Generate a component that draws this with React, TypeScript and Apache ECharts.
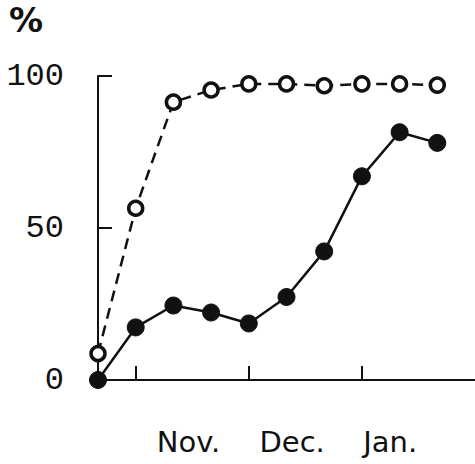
import React, { useEffect, useRef } from "react";
import * as echarts from "echarts";

const xIndex = [0, 1, 2, 3, 4, 5, 6, 7, 8, 9];
const openSeries = [8.7, 56.5, 91.4, 95.4, 97.4, 97.4, 96.8, 97.4, 97.4, 97.0];
const solidSeries = [0, 17.3, 24.5, 22.2, 18.6, 27.3, 42.3, 67.0, 81.5, 78.0];
const xTickValues = [1, 4, 7];
const monthLabels = ["Nov.", "Dec.", "Jan."];
const monthPositions = [2.4, 5.15, 7.75];
const yLabelValues = [0, 50, 100];
const yTickValues = [50, 100];

export default function App() {
  const ref = useRef<HTMLDivElement>(null);
  useEffect(() => {
    if (!ref.current) return;
    const chart = echarts.init(ref.current, null, { renderer: "svg" });
    const ink = "#111";
    chart.setOption({
      animation: false,
      backgroundColor: "#fff",
      grid: { left: 98, right: 0, top: 76, bottom: 84, containLabel: false },
      graphic: [
        {
          type: "text",
          left: 9,
          top: 3,
          style: { text: "%", font: "bold 34px 'DejaVu Sans'", fill: ink },
        },
      ],
      xAxis: {
        type: "value",
        min: 0,
        max: 10,
        splitLine: { show: false },
        axisLine: { show: true, onZero: false, lineStyle: { color: ink, width: 2 } },
        axisTick: {
          show: true,
          inside: true,
          length: 14,
          customValues: xTickValues,
          lineStyle: { color: ink, width: 2 },
        },
        axisLabel: {
          show: true,
          customValues: monthPositions,
          formatter: (v: number) => {
            const i = monthPositions.indexOf(v);
            return i >= 0 ? monthLabels[i] : "";
          },
          margin: 47,
          fontFamily: "'DejaVu Sans'",
          fontSize: 29,
          color: ink,
        },
      },
      yAxis: {
        type: "value",
        min: 0,
        max: 100,
        splitLine: { show: false },
        axisLine: { show: true, lineStyle: { color: ink, width: 2 } },
        axisTick: {
          show: true,
          inside: true,
          length: 14,
          customValues: yTickValues,
          lineStyle: { color: ink, width: 2 },
        },
        axisLabel: {
          show: true,
          customValues: yLabelValues,
          margin: 34,
          fontFamily: "'Liberation Mono'",
          fontSize: 32,
          color: ink,
        },
      },
      series: [
        {
          type: "line",
          data: xIndex.map((x, i) => [x, openSeries[i]]),
          symbol: "circle",
          symbolSize: 14,
          itemStyle: { color: "#fff", borderColor: ink, borderWidth: 3.5 },
          lineStyle: { color: ink, width: 2.5, type: [11, 7] },
          z: 2,
        },
        {
          type: "line",
          data: xIndex.map((x, i) => [x, solidSeries[i]]),
          symbol: "circle",
          symbolSize: 17,
          itemStyle: { color: ink, borderColor: ink, borderWidth: 1 },
          lineStyle: { color: ink, width: 2.5 },
          z: 3,
        },
      ],
    });
    return () => chart.dispose();
  }, []);
  return <div ref={ref} style={{ width: 475, height: 464, position: "absolute", left: 0, top: 0 }} />;
}
